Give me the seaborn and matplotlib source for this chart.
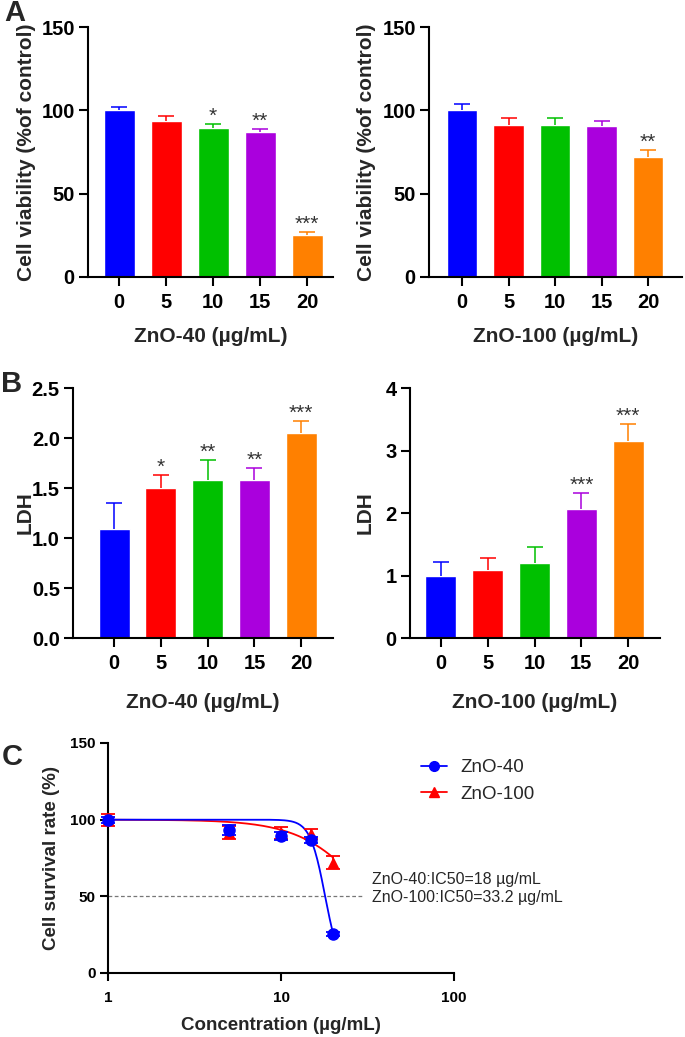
import numpy as np
import pandas as pd
import matplotlib
matplotlib.use("Agg")
import matplotlib.pyplot as plt
from matplotlib.lines import Line2D
import seaborn as sns

# ---- data ----
doses = ["0", "5", "10", "15", "20"]
bar_colors = ["#0000FF", "#FF0000", "#00C000", "#AA00DD", "#FF8000"]

viability_40 = [100.0, 93.5, 89.5, 86.8, 25.5]
viability_40_err = [2.0, 3.3, 2.6, 1.8, 1.5]
viability_40_sig = ["", "", "*", "**", "***"]

viability_100 = [100.0, 91.5, 91.5, 90.5, 72.0]
viability_100_err = [4.0, 4.2, 3.8, 3.2, 4.4]
viability_100_sig = ["", "", "", "", "**"]

ldh_40 = [1.09, 1.50, 1.58, 1.58, 2.05]
ldh_40_err = [0.26, 0.13, 0.20, 0.12, 0.12]
ldh_40_sig = ["", "*", "**", "**", "***"]

ldh_100 = [1.00, 1.09, 1.20, 2.07, 3.15]
ldh_100_err = [0.22, 0.19, 0.25, 0.25, 0.27]
ldh_100_sig = ["", "", "", "***", "***"]

conc = [1, 5, 10, 15, 20]
ic50_40, hill_40 = 18.0, 10.0
ic50_100, hill_100 = 33.2, 2.2

W, H = 685, 1037
FONT = "Liberation Sans"

sns.set_theme(style="ticks")
plt.rcParams["font.family"] = [FONT, "DejaVu Sans"]
plt.rcParams["axes.linewidth"] = 1.5
plt.rcParams["xtick.major.width"] = 1.5
plt.rcParams["ytick.major.width"] = 1.5
plt.rcParams["xtick.color"] = "black"
plt.rcParams["ytick.color"] = "black"
plt.rcParams["axes.edgecolor"] = "black"

fig = plt.figure(figsize=(W / 100, H / 100), dpi=100)


def px_axes(x0, y0, x1, y1):
    return fig.add_axes([x0 / W, 1 - y1 / H, (x1 - x0) / W, (y1 - y0) / H])


def style_axes(ax, tick_size, tick_len):
    sns.despine(ax=ax)
    ax.tick_params(axis="both", length=tick_len, labelsize=tick_size, pad=3)
    for lab in ax.get_xticklabels() + ax.get_yticklabels():
        lab.set_fontweight("bold")


def set_labels(ax, box, xlabel, ylabel, xlab_y, ylab_x, size):
    x0, y0, x1, y1 = box
    ax.set_xlabel(xlabel, fontsize=size, fontweight="bold")
    ax.set_ylabel(ylabel, fontsize=size, fontweight="bold")
    ax.xaxis.label.set_verticalalignment("center")
    ax.yaxis.label.set_verticalalignment("center")
    ax.xaxis.set_label_coords(0.5, (y1 - xlab_y) / (y1 - y0))
    ax.yaxis.set_label_coords((ylab_x - x0) / (x1 - x0), 0.5)


def bar_panel(box, values, errs, sig, ylim, yticks, xlim, xlabel, ylabel,
              xlab_y, ylab_x, tick_fmt):
    ax = px_axes(*box)
    df = pd.DataFrame({"dose": doses, "value": values})
    sns.barplot(data=df, x="dose", y="value", hue="dose", order=doses,
                hue_order=doses, palette=bar_colors, saturation=1,
                width=0.66, errorbar=None, legend=False, ax=ax)
    for i, (v, e, c, s) in enumerate(zip(values, errs, bar_colors, sig)):
        cont = ax.errorbar(i, v, yerr=[[0], [e]], fmt="none", ecolor=c,
                           elinewidth=1.1, capsize=5.5, capthick=1.1, zorder=3)
        # only the upper cap is shown in the reference
        cont.lines[1][0].set_visible(False)
        if s:
            ax.annotate(s, (i, v + e), xytext=(0, 1.5), textcoords="offset points",
                        ha="center", va="baseline", fontsize=15, color="#333333")
    ax.set_ylim(*ylim)
    ax.set_yticks(yticks)
    ax.set_yticklabels([tick_fmt(t) for t in yticks])
    ax.set_xlim(*xlim)
    style_axes(ax, 14.5, 6.5)
    ax.tick_params(axis="x", pad=5)
    set_labels(ax, box, xlabel, ylabel, xlab_y, ylab_x, 15)
    return ax


int_fmt = lambda t: f"{t:g}"
dec_fmt = lambda t: f"{t:.1f}"

bar_panel((88, 27, 333, 277), viability_40, viability_40_err, viability_40_sig,
          (0, 150), [0, 50, 100, 150], (-0.66, 4.55), "ZnO-40 (µg/mL)",
          "Cell viability (%of control)", 337, 27, int_fmt)
bar_panel((429, 27, 682, 277), viability_100, viability_100_err, viability_100_sig,
          (0, 150), [0, 50, 100, 150], (-0.71, 4.73), "ZnO-100 (µg/mL)",
          "Cell viability (%of control)", 337, 367, int_fmt)
bar_panel((73, 388, 333, 638), ldh_40, ldh_40_err, ldh_40_sig,
          (0, 2.5), [0, 0.5, 1.0, 1.5, 2.0, 2.5], (-0.88, 4.68), "ZnO-40 (µg/mL)",
          "LDH", 702, 25, dec_fmt)
bar_panel((410, 388, 660, 638), ldh_100, ldh_100_err, ldh_100_sig,
          (0, 4), [0, 1, 2, 3, 4], (-0.66, 4.68), "ZnO-100 (µg/mL)",
          "LDH", 702, 365, int_fmt)

# ---- panel C: dose-response ----
c_box = (108, 743, 454, 973)
axc = px_axes(*c_box)
grid = np.logspace(0, np.log10(20), 200)
fits = pd.concat([
    pd.DataFrame({"conc": grid, "rate": 100 / (1 + (grid / ic50_100) ** hill_100),
                  "group": "ZnO-100"}),
    pd.DataFrame({"conc": grid, "rate": 100 / (1 + (grid / ic50_40) ** hill_40),
                  "group": "ZnO-40"}),
])
sns.lineplot(data=fits, x="conc", y="rate", hue="group",
             palette={"ZnO-40": "#0000FF", "ZnO-100": "#FF0000"},
             hue_order=["ZnO-100", "ZnO-40"], linewidth=1.3, legend=False,
             ax=axc, zorder=2)
axc.errorbar(conc, viability_100, yerr=viability_100_err, fmt="^", color="#FF0000",
             ms=7, elinewidth=1.3, capsize=5, capthick=1.3, zorder=3)
axc.errorbar(conc, viability_40, yerr=viability_40_err, fmt="o", color="#0000FF",
             ms=8, elinewidth=1.3, capsize=5, capthick=1.3, zorder=4)
axc.plot([1, 30], [50, 50], ls=(0, (3, 2)), color="#777777", lw=0.9, zorder=1)
axc.set_xscale("log")
axc.set_xlim(1, 100)
axc.set_ylim(0, 150)
axc.set_xticks([1, 10, 100])
axc.set_xticklabels(["1", "10", "100"])
axc.xaxis.set_minor_locator(matplotlib.ticker.NullLocator())
axc.set_yticks([0, 50, 100, 150])
style_axes(axc, 11, 6)
axc.tick_params(axis="x", pad=7)
set_labels(axc, c_box, "Concentration (µg/mL)", "Cell survival rate (%)",
           1025, 52, 13.5)
for ln in axc.lines:
    ln.set_clip_on(False)

axc.text(33.5, 61, "ZnO-40:IC50=18 µg/mL", fontsize=11.5, va="center", ha="left")
axc.text(33.5, 49, "ZnO-100:IC50=33.2 µg/mL", fontsize=11.5, va="center", ha="left")

handles = [
    Line2D([], [], color="#0000FF", marker="o", ms=7, lw=1.3),
    Line2D([], [], color="#FF0000", marker="^", ms=7, lw=1.3),
]
fig.legend(handles, ["ZnO-40", "ZnO-100"], loc="upper left",
           bbox_to_anchor=(421 / W, 1 - 759 / H), frameon=False,
           fontsize=13.5, handlelength=1.4, handletextpad=0.7,
           labelspacing=0.5, borderpad=0, borderaxespad=0)

for letter, (x, y) in {"A": (15, 13), "B": (12, 384), "C": (12, 757)}.items():
    fig.text(x / W, 1 - y / H, letter, fontsize=21, fontweight="bold",
             ha="center", va="center")

fig.savefig("out.png", dpi=100)
